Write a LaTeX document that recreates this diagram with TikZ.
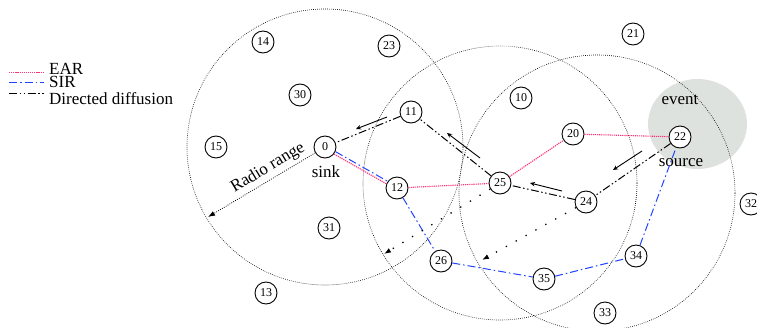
\documentclass[tikz,border=0pt]{standalone}
\usepackage{fontspec}
\setmainfont{Liberation Serif}
\usetikzlibrary{arrows.meta,calc}
\definecolor{earpink}{RGB}{255,50,125}
\definecolor{sirblue}{RGB}{34,68,255}
\definecolor{eventgray}{RGB}{222,226,223}
\tikzset{
  nd/.style={circle,draw,fill=white,line width=0.9pt,minimum size=22pt,inner sep=0pt,font=\fontsize{12}{12}\selectfont},
  rangecirc/.style={line width=0.6pt,dash pattern=on 0.7pt off 1.3pt},
  ear/.style={earpink,line width=1.1pt,dash pattern=on 1.2pt off 0.9pt},
  sir/.style={sirblue,line width=1pt,dash pattern=on 8pt off 3pt on 1.5pt off 3pt},
  dd/.style={black,line width=1pt,dash pattern=on 8pt off 2.5pt on 1.5pt off 2.5pt on 1.5pt off 2.5pt},
  flow/.style={line width=0.9pt,-{Stealth[length=5pt,width=4.5pt]}},
  rrarrow/.style={line width=0.8pt,dash pattern=on 0.8pt off 1.4pt,-{Latex[length=7pt,width=5pt]}},
  rrsparse/.style={line width=1.3pt,dash pattern=on 1.3pt off 10pt,-{Latex[length=7pt,width=5pt]}},
  big/.style={font=\fontsize{17}{17}\selectfont,inner sep=0pt},
}
\begin{document}
\begin{tikzpicture}[x=1pt,y=-1pt]
\useasboundingbox (0,0) rectangle (757,327);
% event region
\fill[eventgray] (697.5,124) ellipse [x radius=49.5pt, y radius=45pt];
% radio ranges
\coordinate (c1) at (325,147);
\coordinate (c2) at (500,183);
\coordinate (c3) at (597,193);
\draw[rangecirc] (c1) circle [radius=138pt];
\draw[rangecirc] (c2) circle [radius=137pt];
\draw[rangecirc] (c3) circle [radius=138pt];
% nodes
\node[nd] (n14) at (263,42) {14};
\node[nd] (n23) at (389,46) {23};
\node[nd] (n21) at (633,34) {21};
\node[nd] (n30) at (300,95) {30};
\node[nd] (n10) at (521,98) {10};
\node[nd] (n11) at (411,112) {11};
\node[nd] (n15) at (216,147) {15};
\node[nd] (n0) at (325,147) {0};
\node[nd] (n20) at (573,134) {20};
\node[nd] (n22) at (680,137) {22};
\node[nd] (n12) at (397,188) {12};
\node[nd] (n25) at (500,183) {25};
\node[nd] (n24) at (586,202) {24};
\node[nd] (n31) at (329,228) {31};
\node[nd] (n32) at (751,204) {32};
\node[nd] (n26) at (441,261) {26};
\node[nd] (n35) at (544,279) {35};
\node[nd] (n34) at (636,256) {34};
\node[nd] (n13) at (266,293) {13};
\node[nd] (n33) at (605,313) {33};
% labels
\node[big] (tevent) at (680,100) {event};
\node[big] (tsource) at (681,163) {source};
\node[big] (tsink) at (326,172) {sink};
% EAR path
\draw[ear,transform canvas={shift={(-0.8,1.4)}}] (n0) -- (n12);
\draw[ear] (n12) -- (n25) -- (n20) -- (n22);
% SIR path
\draw[sir,transform canvas={shift={(0.6,-1)}}] (n0) -- (n12);
\draw[sir] (n12) -- (n26) -- (n35) -- (n34) -- (n22);
% Directed diffusion
\draw[dd] (n22) -- (n24) -- (n25) -- (n11) -- (n0);
% flow arrows
\coordinate (fa1) at (642,151); \coordinate (fa2) at (613,170);
\coordinate (fb1) at (562,191); \coordinate (fb2) at (530,183);
\coordinate (fc1) at (480,158); \coordinate (fc2) at (447,133);
\coordinate (fd1) at (387,117); \coordinate (fd2) at (356,129);
\draw[flow] (fa1) -- (fa2);
\draw[flow] (fb1) -- (fb2);
\draw[flow] (fc1) -- (fc2);
\draw[flow] (fd1) -- (fd2);
% radio range arrows
\coordinate (r0) at (208,217);
\coordinate (r25) at (384,254);
\coordinate (r24) at (482,260);
\draw[rrarrow] (n0) -- (r0);
\node[big,rotate=31] (trr) at (268,168) {Radio range};
\draw[rrsparse] (n25) -- (r25);
\draw[rrsparse] (n24) -- (r24);
% legend
\coordinate (l1a) at (9,72.5); \coordinate (l1b) at (44,72.5);
\coordinate (l2a) at (9,82); \coordinate (l2b) at (44,82);
\coordinate (l3a) at (9,93.5); \coordinate (l3b) at (44,93.5);
\draw[ear] (l1a) -- (l1b);
\draw[sir] (l2a) -- (l2b);
\draw[dd] (l3a) -- (l3b);
\node[big,anchor=base west] (lg1) at (49,74.5) {EAR};
\node[big,anchor=base west] (lg2) at (49,87) {SIR};
\node[big,anchor=base west] (lg3) at (49,104) {Directed diffusion};
\end{tikzpicture}
\end{document}
